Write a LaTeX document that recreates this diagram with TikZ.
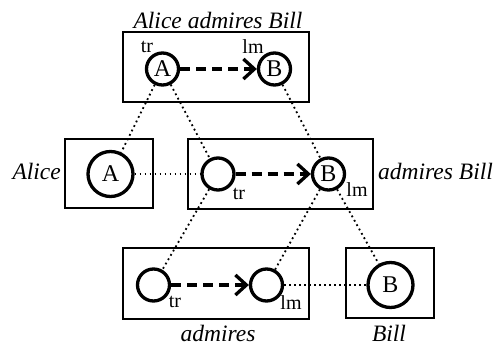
\documentclass[tikz,border=0pt]{standalone}
\usepackage{fontspec}
\setmainfont{Liberation Serif}
\usetikzlibrary{arrows.meta}

\begin{document}
\begin{tikzpicture}[x=1pt,y=-1pt,
    box/.style={line width=2.8pt},
    ent/.style={circle,draw,line width=3.3pt,minimum size=32pt,inner sep=0pt,
      font=\fontsize{24}{28}\selectfont},
    bigent/.style={ent,minimum size=45pt},
    role/.style={inner sep=0pt,font=\fontsize{20}{23}\selectfont},
    word/.style={inner sep=0pt,font=\fontsize{23.5}{28}\selectfont\itshape},
    rel/.style={line width=3.3pt,dash pattern=on 10pt off 6pt,
      -{Straight Barb[length=11pt,width=20pt]}},
    corr/.style={line width=1.8pt,dash pattern=on 1.8pt off 3.2pt}]

  \useasboundingbox (0,0) rectangle (499,345);

  % composite: Alice admires Bill
  \draw[box] (123,32) rectangle (309,102);
  \node[word] (tit) at (218,20) {Alice admires Bill};
  \node[ent] (tA) at (162.5,69) {A};
  \node[ent] (tB) at (274.5,69) {B};
  \node[role] (ttr) at (147,47) {tr};
  \node[role] (tlm) at (253,47) {lm};
  \draw[rel] (tA) -- (tB);

  % middle row: Alice + admires Bill
  \def\ym{174}
  \draw[box] (65,139) rectangle (153,208);
  \node[word,anchor=east] (alice) at (61,171) {Alice};
  \node[bigent] (mA) at (110.5,\ym) {A};

  \draw[box] (188,139) rectangle (373,209);
  \node[word,anchor=west] (ab) at (378,171) {admires Bill};
  \node[ent] (mtr) at (218,\ym) {};
  \node[ent] (mB) at (328.5,\ym) {B};
  \node[role] (mtrl) at (239,194) {tr};
  \node[role] (mlml) at (357,190) {lm};
  \draw[rel] (mtr) -- (mB);

  % bottom row: admires + Bill
  \def\yb{285}
  \draw[box] (123,248) rectangle (309,319);
  \node[word] (adm) at (218,333) {admires};
  \node[ent] (btr) at (153.5,\yb) {};
  \node[ent] (blm) at (266.5,\yb) {};
  \node[role] (btrl) at (175,302) {tr};
  \node[role] (blml) at (291,303) {lm};
  \draw[rel] (btr) -- (blm);

  \draw[box] (346,248) rectangle (434,318);
  \node[word] (bill) at (389,333) {Bill};
  \node[bigent] (bB) at (390.5,\yb) {B};

  % correspondences
  \draw[corr] (tA) -- (mA);
  \draw[corr] (tA) -- (mtr);
  \draw[corr] (tB) -- (mB);
  \draw[corr] (mA) -- (mtr);
  \draw[corr] (mtr) -- (btr);
  \draw[corr] (mB) -- (blm);
  \draw[corr] (mB) -- (bB);
  \draw[corr] (blm) -- (bB);

\end{tikzpicture}
\end{document}
